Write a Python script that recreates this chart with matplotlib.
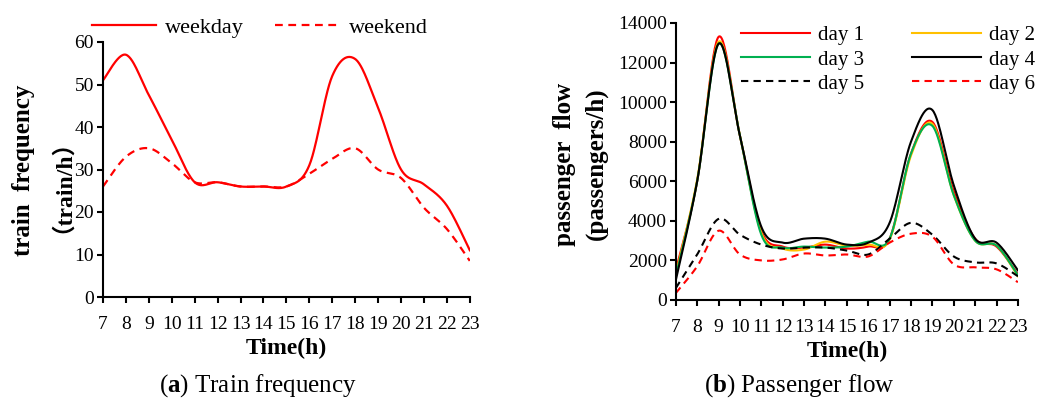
import numpy as np
import matplotlib
matplotlib.use("Agg")
import matplotlib.pyplot as plt

plt.rcParams['font.family'] = ['Liberation Serif', 'DejaVu Serif']
plt.rcParams['mathtext.fontset'] = 'custom'
plt.rcParams['mathtext.rm'] = 'Liberation Serif'
plt.rcParams['mathtext.bf'] = 'Liberation Serif:bold'

hours = list(range(7, 24))
hour_labels = [str(h) for h in hours]

weekday = [51, 57, 47.5, 37, 27, 27, 26, 26, 26, 31, 52, 56, 44.5, 30, 26.5, 21.5, 11]
weekend = [26, 33, 35, 31.5, 27, 27, 26, 26, 26, 29, 32.5, 35, 30, 28, 21, 16, 8.5]

day1 = [1500, 6000, 13300, 8300, 3500, 2700, 2650, 2800, 2600, 2700, 3100, 7400, 9000, 5500, 3100, 2700, 1300]
day2 = [1300, 6100, 13050, 8300, 3400, 2600, 2550, 2950, 2750, 2800, 3050, 7300, 8900, 5300, 3000, 2750, 1200]
day3 = [1200, 6000, 12950, 8300, 3300, 2650, 2700, 2650, 2700, 2950, 3100, 7400, 8800, 5300, 3000, 2750, 1250]
day4 = [1000, 6000, 12950, 8300, 3700, 2900, 3100, 3100, 2800, 2900, 3900, 8000, 9600, 5800, 3100, 2900, 1500]
day5 = [600, 2300, 4100, 3300, 2800, 2600, 2650, 2650, 2500, 2300, 3100, 3900, 3300, 2200, 1900, 1850, 1200]
day6 = [350, 1700, 3500, 2300, 2000, 2050, 2350, 2250, 2300, 2200, 2900, 3350, 3200, 1800, 1650, 1550, 900]


def smooth(x, y, n=30):
    """Excel-like smoothed line (cubic Bezier through the data points)."""
    x = np.asarray(x, float)
    y = np.asarray(y, float)
    P = np.column_stack([x, y])
    out = [P[0]]
    for i in range(len(P) - 1):
        p0 = P[i - 1] if i > 0 else P[i]
        p1 = P[i]
        p2 = P[i + 1]
        p3 = P[i + 2] if i + 2 < len(P) else P[i + 1]
        c1 = p1 + (p2 - p0) / 6.0
        c2 = p2 - (p3 - p1) / 6.0
        t = np.linspace(0, 1, n)[1:, None]
        seg = ((1 - t) ** 3) * p1 + 3 * ((1 - t) ** 2) * t * c1 + 3 * (1 - t) * t ** 2 * c2 + t ** 3 * p2
        out.extend(seg)
    out = np.array(out)
    return out[:, 0], out[:, 1]


fig = plt.figure(figsize=(10.51, 4.0), dpi=100)

TICK_FS = 14
LAB_FS = 17
YLAB_FS = 18

def style_axes(ax):
    for s in ['top', 'right']:
        ax.spines[s].set_visible(False)
    for s in ['left', 'bottom']:
        ax.spines[s].set_linewidth(1.5)
        ax.spines[s].set_color('black')
    ax.tick_params(direction='out', length=4.5, width=1.5, labelsize=TICK_FS, pad=2)
    ax.set_xlim(7, 23)
    ax.set_xticks(hours)
    ax.set_xticklabels(hour_labels)
    ax.tick_params(axis='x', pad=9)

# ---- Left panel ----
ax1 = fig.add_axes([0.098, 0.2575, 0.349, 0.6375])
style_axes(ax1)
xs, ys = smooth(hours, weekday)
ax1.plot(xs, ys, color='#FF0000', lw=1.6, label='weekday')
xs, ys = smooth(hours, weekend)
ax1.plot(xs, ys, color='#FF0000', lw=1.6, ls=(0, (3.5, 2.5)), label='weekend')
ax1.set_ylim(0, 60)
ax1.set_yticks([0, 10, 20, 30, 40, 50, 60])
ax1.set_xlabel('Time(h)', fontsize=LAB_FS, fontweight='bold', labelpad=4)
fig.text(0.022, 0.575, 'train  frequency', rotation=90, fontsize=YLAB_FS, fontweight='bold',
         ha='center', va='center')
fig.text(0.048, 0.565, '\uff08train/h\uff09', rotation=90, fontsize=LAB_FS, fontweight='bold',
         ha='center', va='center', family=['Liberation Serif', 'Noto Sans CJK SC'])
ax1.legend(loc='lower left', bbox_to_anchor=(-0.03, 1.015), ncol=2, frameon=False,
           fontsize=16, handlelength=2.9, handletextpad=0.4, columnspacing=1.4,
           borderaxespad=0, borderpad=0)

# ---- Right panel ----
ax2 = fig.add_axes([0.643, 0.25, 0.3255, 0.6925])
style_axes(ax2)
specs = [
    (day1, '#FF0000', '-', 'day 1'),
    (day2, '#FFC000', '-', 'day 2'),
    (day3, '#00B050', '-', 'day 3'),
    (day4, '#000000', '-', 'day 4'),
    (day5, '#000000', (0, (3.5, 2.5)), 'day 5'),
    (day6, '#FF0000', (0, (3.5, 2.5)), 'day 6'),
]
for data, c, ls, lab in specs:
    xs, ys = smooth(hours, data)
    ax2.plot(xs, ys, color=c, ls=ls, lw=1.5, label=lab)
ax2.set_ylim(0, 14000)
ax2.set_yticks(range(0, 14001, 2000))
ax2.set_xlabel('Time(h)', fontsize=LAB_FS, fontweight='bold', labelpad=4)
fig.text(0.537, 0.59, 'passenger  flow', rotation=90, fontsize=YLAB_FS, fontweight='bold',
         ha='center', va='center')
fig.text(0.567, 0.59, '(passengers/h)', rotation=90, fontsize=YLAB_FS, fontweight='bold',
         ha='center', va='center')
handles, labels = ax2.get_legend_handles_labels()
order = [0, 2, 4, 1, 3, 5]
ax2.legend([handles[i] for i in order], [labels[i] for i in order],
           loc='upper left', bbox_to_anchor=(0.19, 0.99), ncol=2, frameon=False,
           fontsize=15, handlelength=3.3, handletextpad=0.4, columnspacing=2.3,
           labelspacing=0.22, borderaxespad=0, borderpad=0)

# ---- Captions ----
fig.text(0.245, 0.036, r'($\mathbf{a}$) Train frequency', fontsize=18, ha='center', va='center')
fig.text(0.761, 0.036, r'($\mathbf{b}$) Passenger flow', fontsize=18, ha='center', va='center')

fig.savefig('out.png', dpi=100)
